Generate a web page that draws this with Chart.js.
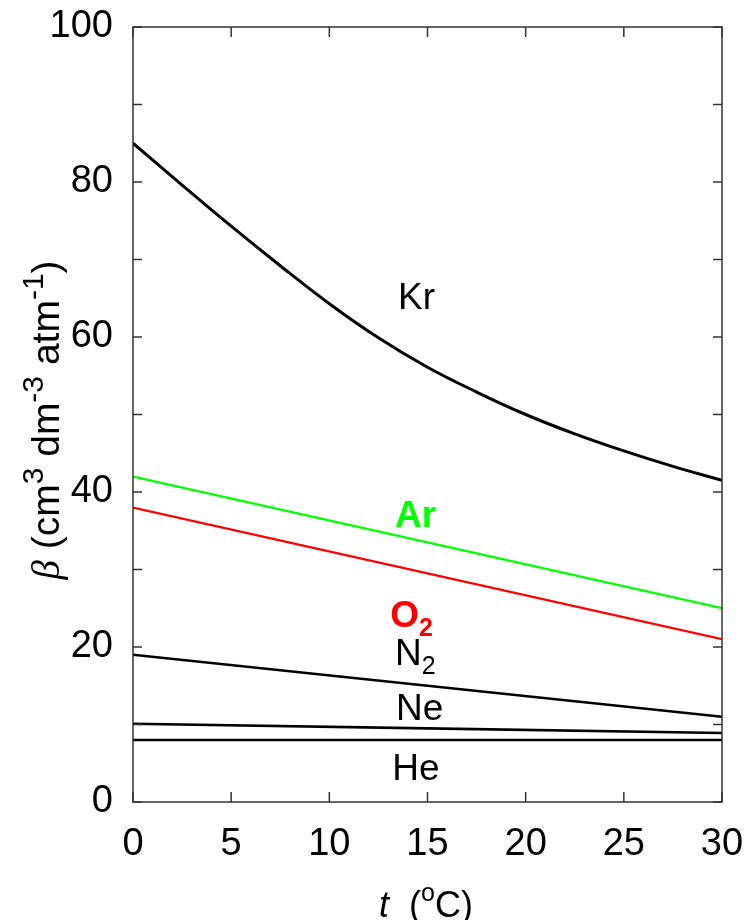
<!DOCTYPE html>
<html>
<head>
<meta charset="utf-8">
<script src="https://cdn.jsdelivr.net/npm/chart.js@4/dist/chart.umd.min.js"></script>
<style>
  html, body { margin: 0; padding: 0; background: #fff; }
  #wrap { width: 746px; height: 920px; }
</style>
</head>
<body>
<div id="wrap"><canvas id="gasChart"></canvas></div>
<script>
// temperatures (deg C)
const tKr = [0, 2.5, 5, 7.5, 10, 12.5, 15, 17.5, 20, 22.5, 25, 27.5, 30];
const tEnds = [0, 30];

// solubility beta (cm3 dm-3 atm-1)
const kr = [85, 79.6, 74.3, 69.2, 64.3, 59.9, 56.1, 52.9, 50.0, 47.5, 45.3, 43.3, 41.5];
const ar = [42, 25];
const o2 = [38, 21];
const n2 = [19, 11];
const ne = [10.1, 8.9];
const he = [8, 8];

const xTicks = [0, 5, 10, 15, 20, 25, 30];
const yTickLabels = [0, 20, 40, 60, 80, 100];

// gas labels: [text, subscript, x, y, colour, bold]
const gasLabels = [
  ['Kr', '', 13.5, 63.6, '#000', false],
  ['Ar', '', 13.35, 35.5, '#00ff00', true],
  ['O', '2', 13.1, 22.6, '#ff0000', true],
  ['N', '2', 13.35, 17.7, '#000', false],
  ['Ne', '', 13.4, 10.6, '#000', false],
  ['He', '', 13.2, 2.8, '#000', false]
];

const FONT = '"Liberation Sans", Arial, sans-serif';

const pts = (xs, ys) => xs.map((x, i) => ({ x: x, y: ys[i] }));

function drawPieces(ctx, pieces, x, y, align) {
  let w = 0;
  pieces.forEach(p => { ctx.font = p.font; w += ctx.measureText(p.t).width; });
  let cx = align === 'center' ? x - w / 2 : x;
  pieces.forEach(p => {
    ctx.font = p.font;
    ctx.fillText(p.t, cx, y + (p.dy || 0));
    cx += ctx.measureText(p.t).width;
  });
}

const overlay = {
  id: 'overlay',
  afterDraw(chart) {
    const { ctx, chartArea: a, scales: { x, y } } = chart;
    ctx.save();
    ctx.strokeStyle = '#333';
    ctx.lineWidth = 1.5;
    ctx.strokeRect(a.left, a.top, a.right - a.left, a.bottom - a.top);

    ctx.beginPath();
    x.ticks.forEach(t => {
      const px = x.getPixelForValue(t.value);
      ctx.moveTo(px, a.bottom); ctx.lineTo(px, a.bottom - 10);
      ctx.moveTo(px, a.top); ctx.lineTo(px, a.top + 10);
    });
    y.ticks.forEach(t => {
      const py = y.getPixelForValue(t.value);
      ctx.moveTo(a.left, py); ctx.lineTo(a.left + 9, py);
      ctx.moveTo(a.right, py); ctx.lineTo(a.right - 9, py);
    });
    ctx.stroke();

    // gas labels
    ctx.textAlign = 'left';
    ctx.textBaseline = 'alphabetic';
    gasLabels.forEach(([txt, sub, lx, ly, col, bold]) => {
      ctx.fillStyle = col;
      const w = bold ? 'bold ' : '';
      const pieces = [{ t: txt, font: w + '37px ' + FONT }];
      if (sub) pieces.push({ t: sub, font: w + '25px ' + FONT, dy: 9 });
      drawPieces(ctx, pieces, x.getPixelForValue(lx), y.getPixelForValue(ly), 'left');
    });

    // x axis title
    ctx.fillStyle = '#000';
    drawPieces(ctx, [
      { t: 't', font: 'italic 36px ' + FONT },
      { t: '  (', font: '36px ' + FONT },
      { t: 'o', font: '25px ' + FONT, dy: -16 },
      { t: 'C)', font: '36px ' + FONT }
    ], 426, 917, 'center');

    // y axis title
    ctx.translate(59, 420);
    ctx.rotate(-Math.PI / 2);
    drawPieces(ctx, [
      { t: 'β', font: 'italic 39px "Liberation Serif", serif' },
      { t: ' (cm', font: '39px ' + FONT },
      { t: '3', font: '30px ' + FONT, dy: -16 },
      { t: ' dm', font: '39px ' + FONT },
      { t: '-3', font: '30px ' + FONT, dy: -16 },
      { t: ' atm', font: '39px ' + FONT },
      { t: '-1', font: '30px ' + FONT, dy: -16 },
      { t: ')', font: '39px ' + FONT }
    ], 0, 0, 'center');
    ctx.restore();
  }
};

const lineSet = (label, data, color, width) => ({
  label: label,
  data: data,
  borderColor: color,
  borderWidth: width,
  pointRadius: 0,
  fill: false,
  tension: 0.4
});

// drop the extra room Chart.js reserves for overhanging tick labels
const noPad = s => {
  s.paddingTop = 0; s.paddingBottom = 0;
  s.paddingLeft = 0; s.paddingRight = 0;
};

new Chart(document.getElementById('gasChart'), {
  type: 'line',
  data: {
    datasets: [
      lineSet('Kr', pts(tKr, kr), '#000', 3),
      lineSet('Ar', pts(tEnds, ar), '#00ff00', 2.2),
      lineSet('O2', pts(tEnds, o2), '#ff0000', 2.2),
      lineSet('N2', pts(tEnds, n2), '#000', 2.6),
      lineSet('Ne', pts(tEnds, ne), '#000', 2.6),
      lineSet('He', pts(tEnds, he), '#000', 2.6)
    ]
  },
  options: {
    responsive: true,
    maintainAspectRatio: false,
    animation: false,
    layout: { padding: { top: 27, right: 24, left: 0, bottom: 0 } },
    plugins: { legend: { display: false }, tooltip: { enabled: false } },
    scales: {
      x: {
        type: 'linear',
        min: 0, max: 30,
        afterBuildTicks: s => { s.ticks = xTicks.map(v => ({ value: v })); },
        afterFit: s => { s.height = 118; noPad(s); },
        grid: { display: false, drawTicks: false },
        border: { display: false },
        ticks: { color: '#000', font: { family: FONT, size: 38 }, padding: 20, maxRotation: 0 }
      },
      y: {
        min: 0, max: 100,
        afterFit: s => { s.width = 133; noPad(s); },
        grid: { display: false, drawTicks: false },
        border: { display: false },
        ticks: {
          stepSize: 10,
          color: '#000',
          font: { family: FONT, size: 38 },
          padding: 20,
          callback: v => yTickLabels.includes(v) ? v : ''
        }
      }
    }
  },
  plugins: [overlay]
});
</script>
</body>
</html>
